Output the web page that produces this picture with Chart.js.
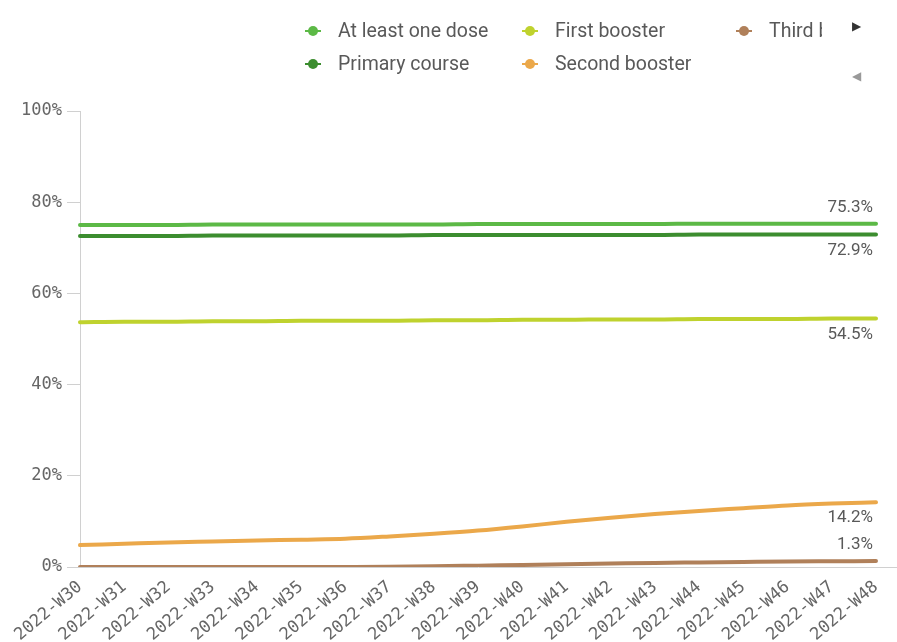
<!DOCTYPE html>
<html>
<head>
<meta charset="utf-8">
<script src="https://cdn.jsdelivr.net/npm/chart.js@4"></script>
<style>
  html, body { margin: 0; padding: 0; background: #fff; }
  #wrap { position: relative; width: 897px; height: 642px; }
  #legend { position: absolute; left: 300px; top: 19px; width: 540px; height: 70px;
    font-family: Roboto, sans-serif; font-size: 19.5px; color: #595959; }
  .item { position: absolute; white-space: nowrap; overflow: hidden; height: 24px; line-height: 24px; }
  .mark { display: inline-block; position: relative; width: 16px; height: 10px; margin-right: 17px; vertical-align: middle; top: -1px; }
  .mark::before { content: ""; position: absolute; left: 0; right: 0; top: 4px; height: 2px; background: var(--c); }
  .mark::after { content: ""; position: absolute; left: 3px; top: 0; width: 10px; height: 10px; border-radius: 50%; background: var(--c); }
  .arrow { position: absolute; left: 852px; font-size: 12px; font-family: "DejaVu Sans", sans-serif; }
</style>
</head>
<body>
<div id="wrap">
  <canvas id="chart" width="897" height="642"></canvas>
  <div id="legend"></div>
  <div class="arrow" style="top:19px;color:#333">&#9654;</div>
  <div class="arrow" style="top:69px;color:#999">&#9664;</div>
</div>
<script>
// weekly coverage, % of population
const weeks = ['2022-W30', '2022-W31', '2022-W32', '2022-W33', '2022-W34', '2022-W35', '2022-W36',
  '2022-W37', '2022-W38', '2022-W39', '2022-W40', '2022-W41', '2022-W42', '2022-W43',
  '2022-W44', '2022-W45', '2022-W46', '2022-W47', '2022-W48'];

const atLeastOneDose = [75.0, 75.0, 75.0, 75.1, 75.1, 75.1, 75.1, 75.1, 75.1, 75.2,
  75.2, 75.2, 75.2, 75.2, 75.3, 75.3, 75.3, 75.3, 75.3];
const primaryCourse = [72.6, 72.6, 72.6, 72.7, 72.7, 72.7, 72.7, 72.7, 72.8, 72.8,
  72.8, 72.8, 72.8, 72.8, 72.9, 72.9, 72.9, 72.9, 72.9];
const firstBooster = [53.7, 53.8, 53.8, 53.9, 53.9, 54.0, 54.0, 54.0, 54.1, 54.1,
  54.2, 54.2, 54.3, 54.3, 54.4, 54.4, 54.4, 54.5, 54.5];
const secondBooster = [4.8, 5.1, 5.4, 5.6, 5.8, 6.0, 6.2, 6.7, 7.3, 8.0,
  8.9, 9.9, 10.8, 11.6, 12.3, 12.9, 13.5, 13.9, 14.2];
const thirdBooster = [0.0, 0.0, 0.0, 0.0, 0.0, 0.0, 0.02, 0.05, 0.15, 0.3,
  0.45, 0.6, 0.75, 0.9, 1.0, 1.1, 1.2, 1.25, 1.3];

const yTicks = [0, 20, 40, 60, 80, 100];

const seriesNames = ['At least one dose', 'Primary course', 'First booster', 'Second booster', 'Third booster'];
const seriesData = [atLeastOneDose, primaryCourse, firstBooster, secondBooster, thirdBooster];
const seriesColors = ['#5cb946', '#3c8d2f', '#bfd22e', '#eba84a', '#b0805a'];
// end label goes above (-1) or below (+1) the line
const labelSide = [-1, 1, 1, 1, -1];

// legend in columns of two, like the app's scrolling legend
const legendPos = [[0, 0], [0, 1], [1, 0], [1, 1], [2, 0]];
const colLeft = [5, 222, 436];
const legend = document.getElementById('legend');
seriesNames.forEach((name, i) => {
  const el = document.createElement('div');
  el.className = 'item';
  el.style.left = colLeft[legendPos[i][0]] + 'px';
  el.style.top = (legendPos[i][1] * 33) + 'px';
  if (legendPos[i][0] === 2) el.style.width = '86px';
  el.innerHTML = '<span class="mark" style="--c:' + seriesColors[i] + '"></span>' + name;
  legend.appendChild(el);
});

const endLabels = {
  id: 'endLabels',
  afterDatasetsDraw(chart) {
    const { ctx, scales: { x, y } } = chart;
    ctx.save();
    ctx.font = '17px Roboto, sans-serif';
    ctx.fillStyle = '#595959';
    ctx.textAlign = 'right';
    ctx.textBaseline = 'middle';
    seriesData.forEach((arr, i) => {
      const last = arr.length - 1;
      const px = x.getPixelForValue(last);
      const py = y.getPixelForValue(arr[last]);
      ctx.fillText(arr[last].toFixed(1) + '%', px - 3, py + labelSide[i] * 16);
    });
    // x axis line runs on to the right edge
    ctx.strokeStyle = '#d0d0d0';
    ctx.lineWidth = 1;
    ctx.beginPath();
    ctx.moveTo(chart.chartArea.right, y.bottom + 0.5);
    ctx.lineTo(chart.width, y.bottom + 0.5);
    ctx.stroke();
    ctx.restore();
  }
};

new Chart(document.getElementById('chart'), {
  type: 'line',
  data: {
    labels: weeks,
    datasets: seriesData.map((d, i) => ({
      label: seriesNames[i],
      data: d,
      borderColor: seriesColors[i],
      backgroundColor: seriesColors[i],
      borderWidth: 4,
      borderCapStyle: 'round',
      pointRadius: 0,
      cubicInterpolationMode: 'monotone',
      order: 5 - i
    }))
  },
  options: {
    responsive: false,
    animation: false,
    layout: { padding: { top: 111, right: 21, left: 0, bottom: 0 } },
    plugins: { legend: { display: false }, tooltip: { enabled: false } },
    scales: {
      x: {
        offset: false,
        grid: { display: false },
        border: { color: '#d0d0d0' },
        ticks: {
          autoSkip: false, maxRotation: 40, minRotation: 40, padding: 2,
          color: '#666', font: { family: '"DejaVu Sans Mono", monospace', size: 17 }
        },
        afterFit(s) { s.height = 75; }
      },
      y: {
        min: 0, max: 100,
        afterBuildTicks(s) { s.ticks = yTicks.map(v => ({ value: v })); },
        grid: { drawOnChartArea: false, tickLength: 13, color: '#d0d0d0' },
        border: { color: '#d0d0d0' },
        ticks: {
          padding: 5, color: '#666',
          font: { family: '"DejaVu Sans Mono", monospace', size: 17 },
          callback: v => v + '%'
        },
        afterFit(s) { s.width = 80; }
      }
    }
  },
  plugins: [endLabels]
});
</script>
</body>
</html>
